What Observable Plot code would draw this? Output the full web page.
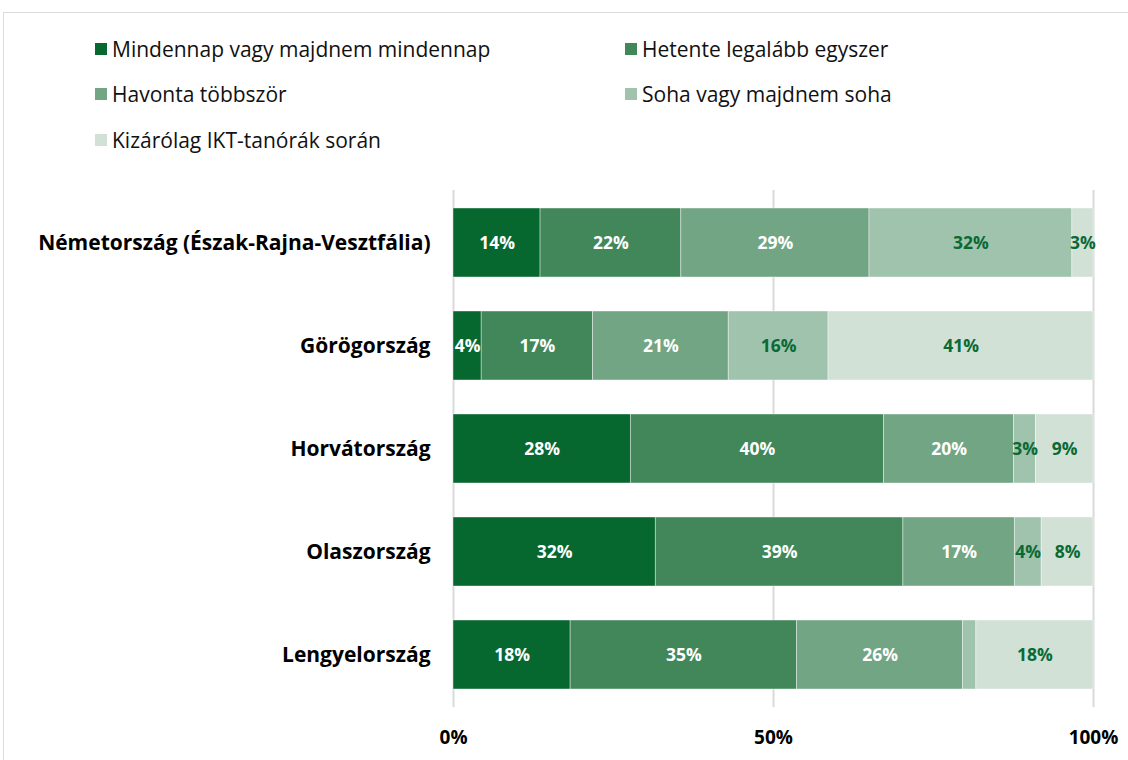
<!DOCTYPE html>
<html>
<head>
<meta charset="utf-8">
<script src="https://cdn.jsdelivr.net/npm/d3@7"></script>
<script src="https://cdn.jsdelivr.net/npm/@observablehq/plot@0.6"></script>
<style>
  html, body { margin: 0; padding: 0; background: #fff; }
  body { width: 1128px; height: 760px; position: relative; overflow: hidden; font-family: "Open Sans", sans-serif; }
  #frame { position: absolute; left: 3px; top: 12px; width: 1200px; height: 800px; border: 1.5px solid #dcdcdc; box-sizing: border-box; }
  #legend { position: absolute; left: 95px; top: 26px; display: grid; grid-template-columns: 530px auto; grid-auto-rows: 45.5px; align-items: center; font-size: 21px; color: #111; }
  .item { display: flex; align-items: center; white-space: nowrap; }
  .sw { width: 12px; height: 12px; display: inline-block; margin-right: 5px; }
  #chart { position: absolute; left: 0; top: 170px; }
</style>
</head>
<body>
<div id="frame"></div>
<div id="legend"></div>
<div id="chart"></div>
<script>
const countries = ["Németország (Észak-Rajna-Vesztfália)", "Görögország", "Horvátország", "Olaszország", "Lengyelország"];
const categories = ["Mindennap vagy majdnem mindennap", "Hetente legalább egyszer", "Havonta többször", "Soha vagy majdnem soha", "Kizárólag IKT-tanórák során"];
const colors = ["#06672f", "#41875a", "#72a584", "#a0c3ad", "#d1e1d6"];
const daily   = [13.6,  4.4, 27.7, 31.6, 18.3];
const weekly  = [22.0, 17.4, 39.6, 38.7, 35.4];
const monthly = [29.4, 21.2, 20.3, 17.4, 25.9];
const never   = [31.7, 15.6,  3.4,  4.2,  2.1];
const ictOnly = [ 3.3, 41.4,  9.0,  8.1, 18.3];
const xTicks = [0, 50, 100];

const series = [daily, weekly, monthly, never, ictOnly];
const data = [];
countries.forEach((c, i) => {
  series.forEach((s, j) => {
    data.push({country: c, category: categories[j], idx: j, value: s[i]});
  });
});

// legend
const legend = document.getElementById("legend");
categories.forEach((cat, j) => {
  const it = document.createElement("div");
  it.className = "item";
  const sw = document.createElement("span");
  sw.className = "sw";
  sw.style.background = colors[j];
  it.appendChild(sw);
  const t = document.createElement("span");
  t.textContent = cat;
  it.appendChild(t);
  legend.appendChild(it);
});

const label = d => Math.round(d.value) + "%";

const chart = Plot.plot({
  width: 1128,
  height: 590,
  marginTop: 20,
  marginBottom: 53,
  marginLeft: 453,
  marginRight: 35,
  style: {fontFamily: "'Open Sans', sans-serif", background: "transparent"},
  x: {domain: [0, 100], axis: null},
  y: {domain: countries, paddingInner: 0.333, paddingOuter: 0.1667, axis: null},
  color: {domain: categories, range: colors},
  marks: [
    Plot.ruleX(xTicks, {stroke: "#d9d9d9", strokeWidth: 2}),
    Plot.barX(data, Plot.stackX({x: "value", y: "country", fill: "category", stroke: "#ffffff", strokeWidth: 0.6, strokeOpacity: 0.7})),
    Plot.text(data, Plot.stackX({x: "value", y: "country", z: "category",
      text: d => (d.idx < 3 && d.value >= 3) ? label(d) : "",
      fill: "#ffffff", fontSize: 17.5, fontWeight: "bold"})),
    Plot.text(data, Plot.stackX({x: "value", y: "country", z: "category",
      text: d => (d.idx >= 3 && d.value >= 3) ? label(d) : "",
      fill: "#0a6a34", fontSize: 17.5, fontWeight: "bold"})),
    Plot.axisY({tickSize: 0, tickPadding: 23, fontSize: 21, fontWeight: "bold", label: null, color: "#000"}),
    Plot.axisX(xTicks, {tickSize: 0, tickPadding: 23, fontSize: 19, fontWeight: "bold", label: null, tickFormat: d => d + "%", color: "#000"})
  ]
});
document.getElementById("chart").appendChild(chart);
</script>
</body>
</html>
